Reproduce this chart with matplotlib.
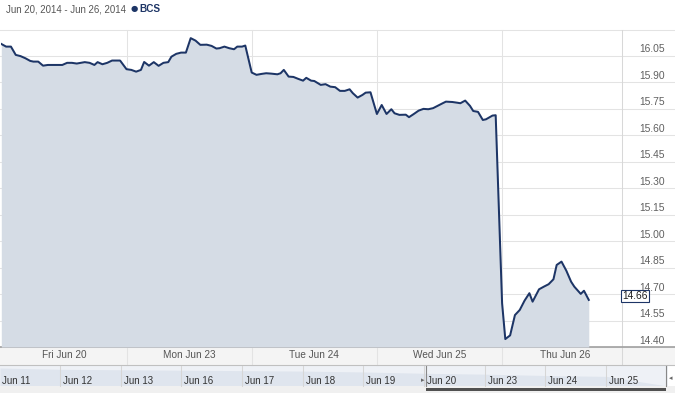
import matplotlib
matplotlib.use("Agg")
import matplotlib.pyplot as plt
import numpy as np
from matplotlib.patches import Rectangle

# ---------------- data ----------------
title_text = "Jun 20, 2014 - Jun 26, 2014"
series_name = "BCS"
day_labels = ["Fri Jun 20", "Mon Jun 23", "Tue Jun 24", "Wed Jun 25", "Thu Jun 26"]

# minutes after the open, price
fri_min = [0, 15, 30, 45, 60, 75, 90, 100, 115, 130, 145, 165, 190, 205, 220, 235, 260, 275, 290, 300, 315, 330, 345, 370]
fri_px = [16.118, 16.103, 16.103, 16.056, 16.049, 16.037, 16.022, 16.018, 16.018, 15.995, 15.999, 15.999, 15.999, 16.011,
          16.011, 16.007, 16.015, 16.011, 15.999, 16.015, 16.003, 16.011, 16.024, 16.024]
mon_min = [0, 15, 30, 45, 55, 70, 85, 100, 115, 130, 140, 155, 170, 185, 200, 215, 230, 250, 265, 280, 290, 305, 320, 335, 345, 360, 370]
mon_px = [15.975, 15.971, 15.961, 15.971, 16.016, 15.995, 16.015, 15.994, 16.011, 16.015, 16.046, 16.062, 16.069, 16.069,
          16.151, 16.137, 16.113, 16.114, 16.107, 16.092, 16.094, 16.103, 16.094, 16.088, 16.103, 16.103, 16.109]
tue_min = [0, 15, 30, 45, 60, 80, 90, 100, 115, 130, 145, 160, 170, 185, 195, 215, 230, 245, 260, 275, 290, 305, 315, 330, 345, 355, 370]
tue_px = [15.956, 15.943, 15.948, 15.952, 15.950, 15.946, 15.952, 15.971, 15.933, 15.931, 15.920, 15.910, 15.926, 15.910,
          15.908, 15.886, 15.890, 15.876, 15.873, 15.852, 15.852, 15.861, 15.839, 15.814, 15.829, 15.842, 15.844]
wed_min = [0, 15, 30, 45, 55, 70, 90, 100, 115, 130, 145, 160, 175, 190, 205, 215, 235, 250, 260, 275, 290, 300, 315, 330, 340, 360, 370]
wed_px = [15.721, 15.772, 15.721, 15.748, 15.725, 15.716, 15.717, 15.703, 15.721, 15.740, 15.750, 15.748, 15.754, 15.768,
          15.782, 15.791, 15.789, 15.785, 15.782, 15.797, 15.767, 15.738, 15.733, 15.687, 15.691, 15.712, 15.714]
thu_min = [0, 10, 25, 40, 55, 70, 85, 95, 115, 130, 145, 160, 170, 185, 200, 215, 225, 245, 255, 270]
thu_px = [14.648, 14.445, 14.466, 14.581, 14.610, 14.663, 14.705, 14.657, 14.727, 14.742, 14.756, 14.784, 14.865, 14.884,
          14.833, 14.770, 14.742, 14.701, 14.719, 14.667]
last_price = 14.66

y_ticks = [14.40, 14.55, 14.70, 14.85, 15.00, 15.15, 15.30, 15.45, 15.60, 15.75, 15.90, 16.05, 16.20]

nav_labels = ["Jun 11", "Jun 12", "Jun 13", "Jun 16", "Jun 17", "Jun 18", "Jun 19", "Jun 20", "Jun 23", "Jun 24", "Jun 25"]
nav_close = [16.70, 16.55, 16.50, 16.45, 16.40, 16.35, 16.25, 16.10, 16.00, 15.85, 15.75, 14.66]

# ---------------- layout helpers ----------------
W, H = 675, 393
fig = plt.figure(figsize=(W / 100, H / 100), dpi=100)
fig.patch.set_facecolor("white")
FONT = "Liberation Sans"
LINE = "#1d3566"
FILL = "#d5dce5"
GRID = "#e3e3e3"


def fxp(px):
    return px / W


def fyp(py):
    return 1 - py / H


# overlay axes in pixel coordinates for decorations
deco = fig.add_axes([0, 0, 1, 1], zorder=0)
deco.set_xlim(0, W)
deco.set_ylim(H, 0)
deco.axis("off")

# ---------------- main plot ----------------
plot_l, plot_r, plot_t, plot_b = 1.0, 621.7, 29.5, 347.0
day_px = 125.2
day0_px = 1.3
ax = fig.add_axes([fxp(plot_l), fyp(plot_b), (plot_r - plot_l) / W, (plot_b - plot_t) / H], zorder=2)
ax.patch.set_alpha(0)
ymin, ymax = y_ticks[0], y_ticks[-1]
ax.set_ylim(ymin, ymax)
ax.set_xlim((plot_l - day0_px) / day_px, (plot_r - day0_px) / day_px)
for s in ax.spines.values():
    s.set_visible(False)
ax.set_xticks([])
ax.set_yticks([])

xs, ys = [], []
for d, (mins, prices) in enumerate([(fri_min, fri_px), (mon_min, mon_px), (tue_min, tue_px),
                                     (wed_min, wed_px), (thu_min, thu_px)]):
    for m, p in zip(mins, prices):
        xs.append(d + m / 390.0)
        ys.append(p)
xs = np.array(xs)
ys = np.array(ys)

ax.fill_between(xs, ys, ymin, color=FILL, lw=0, zorder=1)
ax.plot(xs, ys, color=LINE, lw=1.45, zorder=3, solid_joinstyle="round")

# horizontal grid lines across full width (figure pixel space)
px_per_unit = (plot_b - plot_t) / (ymax - ymin)
for v in y_ticks:
    yp = plot_b - (v - ymin) * px_per_unit
    deco.plot([0, W], [yp, yp], color=GRID, lw=0.75, zorder=1)
    if v < ymax - 1e-9:
        deco.text(665, yp - 6.5, f"{v:.2f}", ha="right", va="center", fontsize=7.4,
                  color="#606060", family=FONT)

# vertical day separators
for d in range(1, 5):
    xp = day0_px + d * day_px
    deco.plot([xp, xp], [plot_t, 365], color=GRID, lw=0.75, zorder=1)
deco.plot([622, 622], [plot_t, 365], color="#d8d8d8", lw=0.75, zorder=1)

# last price label
yp_last = plot_b - (last_price - ymin) * px_per_unit
deco.text(635, yp_last - 5, f"{last_price:.2f}", ha="center", va="center", fontsize=7.4,
          color="#202020", family=FONT, zorder=5,
          bbox=dict(boxstyle="square,pad=0.12", fc="white", ec=LINE, lw=0.8))

# ---------------- x-axis band ----------------
deco.add_patch(Rectangle((0, 347), W, 18, color="#f4f4f4", lw=0, zorder=0))
deco.plot([0, W], [347, 347], color="#a0a0a0", lw=1.2, zorder=2)
deco.plot([0, W], [365, 365], color="#c0c0c0", lw=0.8, zorder=2)
for d, lab in enumerate(day_labels):
    xc = day0_px + (d + 0.5) * day_px
    deco.text(xc, 355.5, lab, ha="center", va="center", fontsize=7.2, color="#555555", family=FONT)

# ---------------- navigator ----------------
nav_t, nav_b = 366, 386
nav_step = 60.65
deco.add_patch(Rectangle((0, nav_t), 668, nav_b - nav_t, color="#eef1f6", lw=0, zorder=0))
nav_x = [nav_step * i for i in range(len(nav_close))]
nv = np.array(nav_close)
nmin, nmax = nv.min(), nv.max()
nav_y = nav_b - (nv - nmin) / (nmax - nmin) * (nav_b - nav_t - 2)
deco.fill_between(nav_x, nav_y, nav_b, color="#dfe5ee", lw=0, zorder=1)
for i, lab in enumerate(nav_labels):
    xp = nav_step * i - 0.7
    if i > 0:
        deco.plot([xp, xp], [nav_t, nav_b], color="#d6d6d6", lw=0.75, zorder=2)
    deco.text(xp + 3, 381, lab, ha="left", va="center", fontsize=7.0, color="#333333", family=FONT, zorder=3)
# selected range outline
sel_l, sel_r = 426, 666
deco.plot([sel_l, sel_l], [nav_t, nav_b], color="#888888", lw=0.8, zorder=3)
deco.plot([sel_r, sel_r], [nav_t, nav_b], color="#888888", lw=0.8, zorder=3)
deco.text(sel_l - 3, 380, "\u25B8", ha="center", va="center", fontsize=5, color="#666666", family="DejaVu Sans")
deco.text(sel_r + 5, 378, "\u25C2", ha="center", va="center", fontsize=5, color="#666666", family="DejaVu Sans")
# scrollbar
deco.add_patch(Rectangle((0, 386), W, 7, color="#f0f0f0", lw=0, zorder=1))
deco.add_patch(Rectangle((sel_l, 387.5), sel_r - sel_l, 3.5, color="#505050", lw=0, zorder=2))

# ---------------- title / legend ----------------
deco.text(6, 9, title_text, ha="left", va="center", fontsize=6.9, color="#555555", family=FONT)
deco.text(134, 8.5, "\u25CF", ha="center", va="center", fontsize=6.0, color=LINE, family="DejaVu Sans")
deco.text(139, 9, series_name, ha="left", va="center", fontsize=7.2, color=LINE, family=FONT, weight="bold")

fig.savefig("out.png", dpi=100)
